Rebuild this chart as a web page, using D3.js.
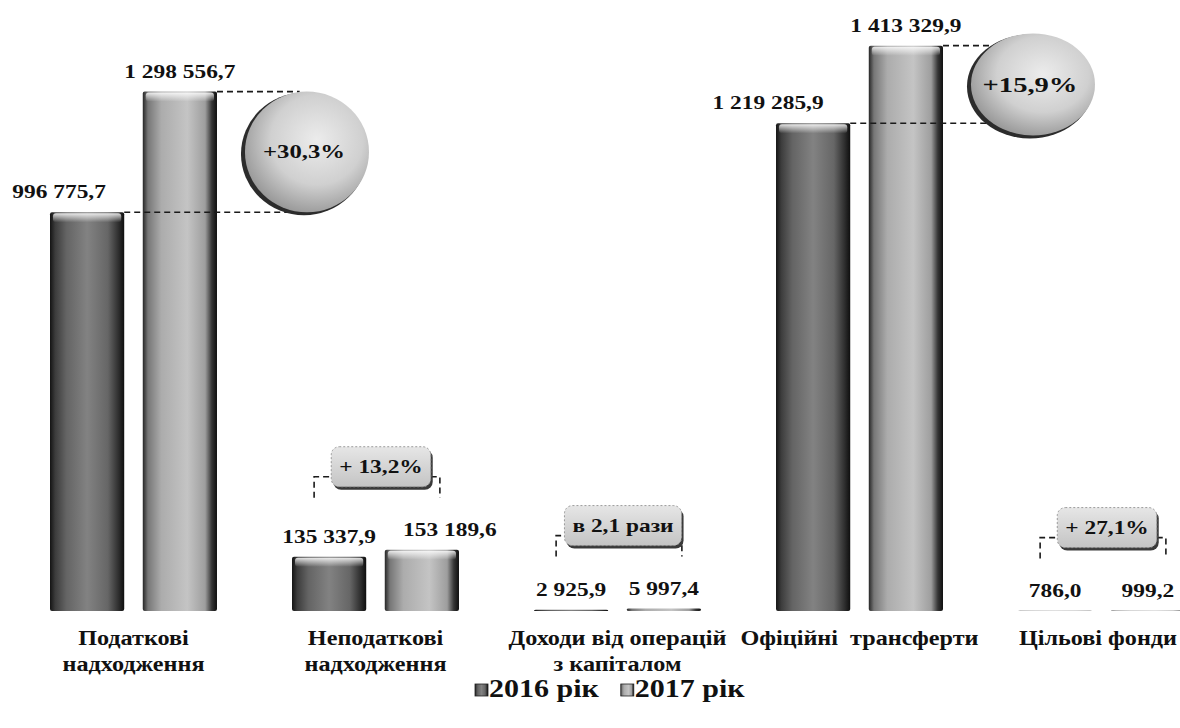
<!DOCTYPE html>
<html>
<head>
<meta charset="utf-8">
<script src="https://cdn.jsdelivr.net/npm/d3@7"></script>
<style>
  body { margin: 0; background: #fff; }
  text { font-family: "Liberation Serif", "Times New Roman", serif; font-weight: bold; fill: #111; }
</style>
</head>
<body>
<svg id="chart" width="1180" height="728"></svg>
<script>
const categories = ["Податкові надходження", "Неподаткові надходження", "Доходи від операцій з капіталом", "Офіційні трансферти", "Цільові фонди"];
const categoryLines = [["Податкові", "надходження"], ["Неподаткові", "надходження"], ["Доходи від операцій", "з капіталом"], ["Офіційні\u00a0 трансферти"], ["Цільові фонди"]];
const years = ["2016 рік", "2017 рік"];
const values2016 = [996775.7, 135337.9, 2925.9, 1219285.9, 786.0];
const values2017 = [1298556.7, 153189.6, 5997.4, 1413329.9, 999.2];
const changeLabels = ["+30,3%", "+ 13,2%", "в 2,1 рази", "+15,9%", "+ 27,1%"];

// how each change is drawn (bubble beside tall bars, box above small ones)
const changeShape = ["bubble", "box", "box", "bubble", "box"];
const bubbleFont = [19, 0, 0, 22, 0];
// hand nudges of some value labels, as in the original layout
const labelDx = { "0|0": -28, "3|0": -45, "1|1": 28 };

const SX = 1.3; // the scanned type is wide: stretch the serif horizontally
const fmt = d3.formatLocale({ decimal: ",", thousands: " ", grouping: [3], currency: ["", ""] }).format(",.1f");

const svg = d3.select("#chart");

const x0 = d3.scaleBand().domain(categories).range([50, 1185]).paddingInner(0.31);
const x1 = d3.scaleBand().domain(years).range([0, x0.bandwidth()]).paddingInner(0.2);
const y = d3.scaleLinear().domain([0, 1500000]).range([611, 11]);

const rows = categories.map((cat, i) => ({ cat, i, vals: [values2016[i], values2017[i]] }));

function addText(parent, x, yy, str, size, anchor = "middle", sx = SX) {
    return parent.append("text")
        .attr("transform", `translate(${x},${yy}) scale(${sx},1)`)
        .attr("text-anchor", anchor)
        .style("font-size", size + "px")
        .text(str);
}

// gradients
const defs = svg.append("defs");
function hGrad(id, stops) {
    const g = defs.append("linearGradient").attr("id", id).attr("x1", "0%").attr("x2", "100%");
    stops.forEach(([o, c]) => g.append("stop").attr("offset", o).attr("stop-color", c));
}
hGrad("bar0", [["0%", "#141414"], ["7%", "#3c3c3c"], ["22%", "#646464"], ["50%", "#828282"], ["78%", "#666"], ["92%", "#303030"], ["100%", "#0e0e0e"]]);
hGrad("bar1", [["0%", "#262626"], ["7%", "#777"], ["25%", "#acacac"], ["60%", "#c4c4c4"], ["84%", "#9e9e9e"], ["93%", "#363636"], ["100%", "#0e0e0e"]]);
const cap = defs.append("linearGradient").attr("id", "cap").attr("x1", "0%").attr("x2", "0%").attr("y1", "0%").attr("y2", "100%");
cap.append("stop").attr("offset", "0%").attr("stop-color", "#fff").attr("stop-opacity", 0.85);
cap.append("stop").attr("offset", "100%").attr("stop-color", "#fff").attr("stop-opacity", 0);
const bub = defs.append("radialGradient").attr("id", "bubble").attr("cx", "58%").attr("cy", "40%").attr("r", "62%");
bub.append("stop").attr("offset", "0%").attr("stop-color", "#ececec");
bub.append("stop").attr("offset", "60%").attr("stop-color", "#d0d0d0");
bub.append("stop").attr("offset", "100%").attr("stop-color", "#9a9a9a");
const boxG = defs.append("linearGradient").attr("id", "boxfill").attr("x1", "0%").attr("x2", "0%").attr("y1", "0%").attr("y2", "100%");
boxG.append("stop").attr("offset", "0%").attr("stop-color", "#e6e6e6");
boxG.append("stop").attr("offset", "100%").attr("stop-color", "#c4c4c4");

// bars
const groups = svg.append("g").selectAll("g").data(rows).join("g")
    .attr("transform", d => `translate(${x0(d.cat)},0)`);

const bars = groups.selectAll("g.bar")
    .data(d => years.map((yr, k) => ({ yr, k, v: d.vals[k] })))
    .join("g").attr("class", "bar");

bars.append("rect")
    .attr("x", d => x1(d.yr))
    .attr("width", x1.bandwidth())
    .attr("y", d => y(d.v))
    .attr("height", d => y(0) - y(d.v))
    .attr("rx", 2)
    .attr("fill", d => `url(#bar${d.k})`);

bars.filter(d => y(0) - y(d.v) > 12).append("rect")
    .attr("x", d => x1(d.yr) + 3)
    .attr("width", x1.bandwidth() - 6)
    .attr("y", d => y(d.v) + 1)
    .attr("height", 9)
    .attr("rx", 3)
    .attr("fill", "url(#cap)");

// change annotations
const ann = svg.append("g");
const bw = x1.bandwidth();
rows.forEach(d => {
    const left16 = x0(d.cat) + x1(years[0]);
    const left17 = x0(d.cat) + x1(years[1]);
    const c16 = left16 + bw / 2, c17 = left17 + bw / 2;
    const t16 = y(d.vals[0]), t17 = y(d.vals[1]);

    if (changeShape[d.i] === "bubble") {
        const cx = left17 + bw + 90, cy = (t16 + t17) / 2;
        const rx = 63, ry = Math.max(52, (t16 - t17) / 2 + 1);
        const edgeX = yy => cx - rx * Math.sqrt(Math.max(0, 1 - ((yy - cy) / ry) ** 2));
        ann.append("line").attr("x1", left16 + bw).attr("x2", edgeX(t16) + 4).attr("y1", t16).attr("y2", t16)
            .attr("stroke", "#1a1a1a").attr("stroke-width", 1.6).attr("stroke-dasharray", "6,4");
        ann.append("line").attr("x1", left17 + bw).attr("x2", edgeX(t17) + 4).attr("y1", t17).attr("y2", t17)
            .attr("stroke", "#1a1a1a").attr("stroke-width", 1.6).attr("stroke-dasharray", "6,4");
        ann.append("ellipse").attr("cx", cx - 3).attr("cy", cy + 2).attr("rx", rx).attr("ry", ry).attr("fill", "#2c2c2c");
        ann.append("ellipse").attr("cx", cx).attr("cy", cy).attr("rx", rx - 1).attr("ry", ry - 1).attr("fill", "url(#bubble)");
        addText(ann, cx - 3, cy + bubbleFont[d.i] * 0.33, changeLabels[d.i], bubbleFont[d.i]);
    } else {
        const base = Math.min(t16, t17) - 14;
        const bBottom = base - 38, bTop = bBottom - 21;
        const lx = c16 - 15, rxp = c17 + 18;
        const txt = addText(ann, 0, 0, changeLabels[d.i], 18);
        const tw = txt.node().getComputedTextLength() * SX;
        const bcx = (lx + rxp) / 2 + 4, bcy = bTop - 10;
        const boxW = tw + 16, boxH = 40;
        const bl = bcx - boxW / 2, br = bcx + boxW / 2;
        ann.insert("path", "text")
            .attr("d", `M${lx},${bBottom}V${bTop}H${bl}M${br},${bTop}H${rxp}V${bBottom}`)
            .attr("fill", "none").attr("stroke", "#1a1a1a").attr("stroke-width", 1.6).attr("stroke-dasharray", "6,4");
        ann.insert("rect", "text").attr("x", bl + 2).attr("y", bcy - boxH / 2 + 3).attr("width", boxW).attr("height", boxH)
            .attr("rx", 8).attr("fill", "#3a3a3a");
        ann.insert("rect", "text").attr("x", bl).attr("y", bcy - boxH / 2).attr("width", boxW).attr("height", boxH)
            .attr("rx", 8).attr("fill", "url(#boxfill)").attr("stroke", "#9a9a9a").attr("stroke-dasharray", "2,2");
        txt.attr("transform", `translate(${bcx},${bcy + 6}) scale(${SX},1)`);
        txt.raise();
    }
});

// value labels
const vl = svg.append("g");
rows.forEach(d => {
    years.forEach((yr, k) => {
        const cx = x0(d.cat) + x1(yr) + bw / 2 + (labelDx[d.i + "|" + k] || 0);
        addText(vl, cx, y(d.vals[k]) - 14, fmt(d.vals[k]), 18);
    });
});

// category labels
const cl = svg.append("g");
const CSX = 1.1;
rows.forEach(d => {
    categoryLines[d.i].forEach((line, j) => {
        let cx = x0(d.cat) + x0.bandwidth() / 2;
        const t = addText(cl, cx, 645 + j * 26, line, 22, "middle", CSX);
        const half = t.node().getComputedTextLength() * CSX / 2;
        if (cx + half > 1177) {
            cx = 1177 - half;
            t.attr("transform", `translate(${cx},${645 + j * 26}) scale(${CSX},1)`);
        }
    });
});

// legend
const lg = svg.append("g");
const LSX = 1.2;
let lx = 475;
years.forEach((yr, k) => {
    lg.append("rect").attr("x", lx).attr("y", 684).attr("width", 13).attr("height", 12)
        .attr("fill", `url(#bar${k})`).attr("stroke", "#222").attr("stroke-width", 0.8);
    const t = addText(lg, lx + 14, 697, yr, 25, "start", LSX);
    lx += 14 + t.node().getComputedTextLength() * LSX + 22;
});
</script>
</body>
</html>
